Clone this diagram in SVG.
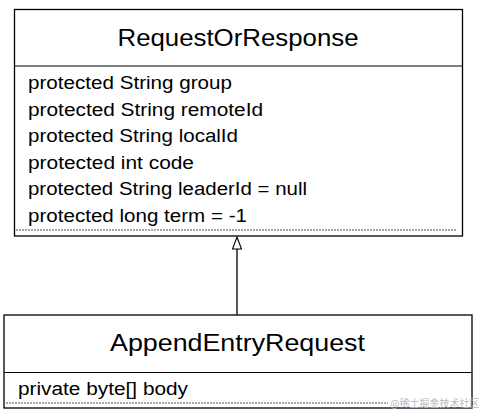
<svg xmlns="http://www.w3.org/2000/svg" width="484" height="416" viewBox="0 0 484 416">
<style>
.box{fill:#fff;stroke:#000;stroke-width:1.3}
.sep{stroke:#000;stroke-width:1.2}
.dot{stroke:#555;stroke-width:1.2;stroke-dasharray:2 1}
.title{font-family:"Liberation Sans",Arial,sans-serif;font-size:23px;fill:#000}
.attr{font-family:"Liberation Sans",Arial,sans-serif;font-size:18px;fill:#000}
.wm{font-family:"Noto Sans CJK SC",sans-serif;font-size:10px;fill:#bbb}
.arrowhead{fill:#fff;stroke:#000;stroke-width:1.1}
</style>
<rect width="484" height="416" fill="#fff"/>
<g id="connectors">
<line x1="237" y1="315" x2="237" y2="249" stroke="#000" stroke-width="1.3"/>
<path class="arrowhead" d="M237,237 L241.5,249 L232.5,249 Z"/>
</g>
<g id="RequestOrResponse">
<rect class="box" x="14.5" y="9.5" width="448" height="226.5"/>
<line class="sep" x1="14.5" y1="66" x2="462.5" y2="66"/>
<text class="title" x="238" y="46" text-anchor="middle" textLength="241" lengthAdjust="spacingAndGlyphs">RequestOrResponse</text>
<text class="attr" x="28" y="89" textLength="204" lengthAdjust="spacingAndGlyphs">protected String group</text>
<text class="attr" x="28" y="115.5" textLength="235" lengthAdjust="spacingAndGlyphs">protected String remoteId</text>
<text class="attr" x="28" y="142" textLength="210" lengthAdjust="spacingAndGlyphs">protected String localId</text>
<text class="attr" x="28" y="168.5" textLength="166" lengthAdjust="spacingAndGlyphs">protected int code</text>
<text class="attr" x="28" y="195" textLength="279" lengthAdjust="spacingAndGlyphs">protected String leaderId = null</text>
<text class="attr" x="28" y="221.5" textLength="219" lengthAdjust="spacingAndGlyphs">protected long term = -1</text>
<line class="dot" x1="16" y1="230" x2="457" y2="230"/>
</g>
<g id="AppendEntryRequest">
<rect class="box" x="4" y="315" width="468" height="93"/>
<line class="sep" x1="4" y1="372.5" x2="472" y2="372.5"/>
<text class="title" x="237.5" y="351" text-anchor="middle" textLength="255" lengthAdjust="spacingAndGlyphs">AppendEntryRequest</text>
<text class="attr" x="18" y="395" textLength="170" lengthAdjust="spacingAndGlyphs">private byte[] body</text>
<line class="dot" x1="6" y1="403" x2="388" y2="403"/>
</g>
<text class="wm" x="390" y="407">@稀土掘金技术社区</text>
</svg>
